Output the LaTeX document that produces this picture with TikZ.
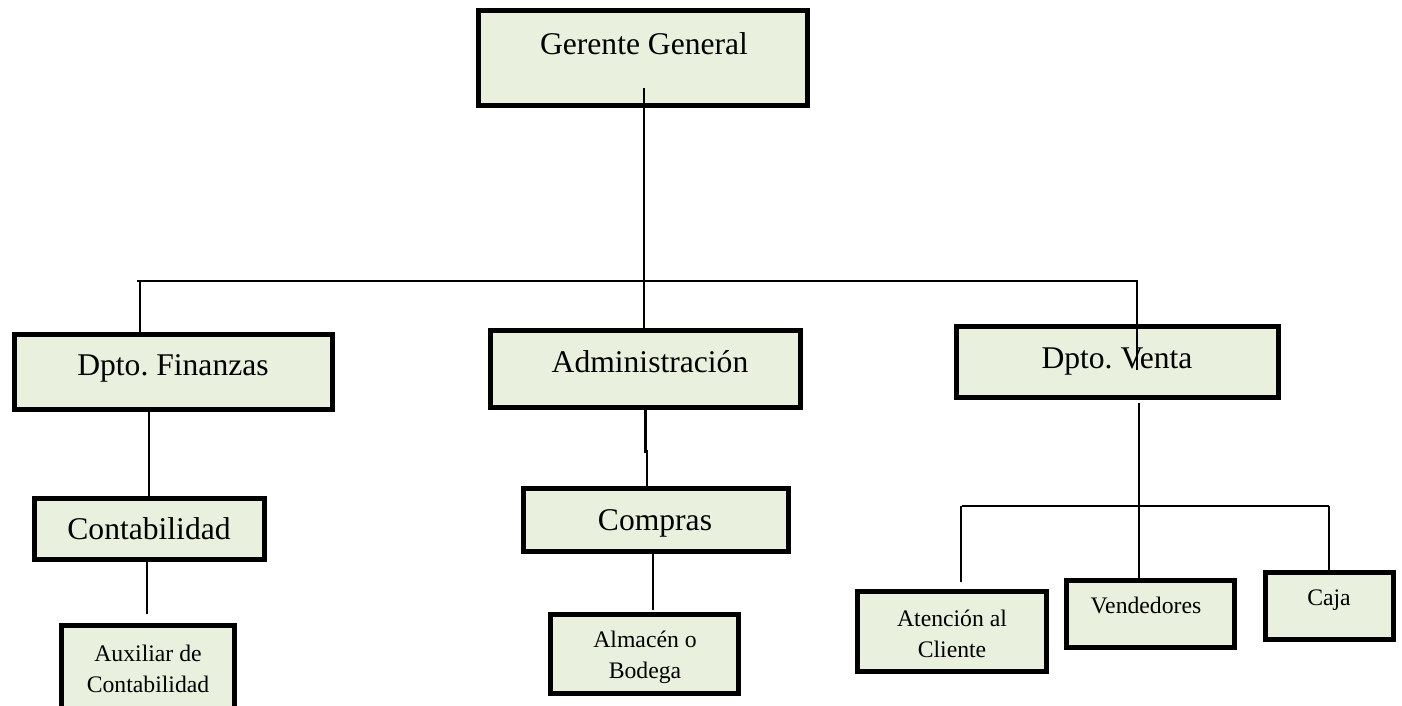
\documentclass[tikz,border=0pt]{standalone}
\usepackage{fontspec}
\setmainfont{Liberation Serif}
\frenchspacing
\definecolor{boxfill}{RGB}{233,240,221}
\tikzset{
  orgbox/.style={draw=black, line width=5pt, fill=boxfill, outer sep=0pt, inner sep=0pt, rectangle},
  bigtxt/.style={font=\fontsize{31.6}{38}\selectfont\frenchspacing, anchor=base, inner sep=0pt},
  smalltxt/.style={font=\fontsize{23.7}{31}\selectfont\frenchspacing, anchor=base, inner sep=0pt},
  conn/.style={draw=black, line width=2pt},
}
\begin{document}
\begin{tikzpicture}[x=1pt,y=-1pt]
\useasboundingbox[fill=white] (0,0) rectangle (1402,705);

% boxes
\node[orgbox, minimum width=329pt, minimum height=95pt] (gg) at (643,58) {};
\node[orgbox, minimum width=318pt, minimum height=75pt] (fin) at (173.5,372) {};
\node[orgbox, minimum width=310pt, minimum height=77pt] (adm) at (645.5,369) {};
\node[orgbox, minimum width=322pt, minimum height=71pt] (ven) at (1117.5,362) {};
\node[orgbox, minimum width=230pt, minimum height=61pt] (con) at (149.5,529) {};
\node[orgbox, minimum width=265pt, minimum height=63pt] (com) at (656,520) {};
\node[orgbox, minimum width=173pt, minimum height=86pt] (aux) at (148,668.5) {};
\node[orgbox, minimum width=188pt, minimum height=79pt] (alm) at (644.5,654) {};
\node[orgbox, minimum width=189pt, minimum height=80pt] (ate) at (952,631.5) {};
\node[orgbox, minimum width=168pt, minimum height=67pt] (vnd) at (1150.5,614) {};
\node[orgbox, minimum width=128pt, minimum height=67pt] (caj) at (1329.5,606) {};

% texts
\node[bigtxt] (ggt) at (644,54) {Gerente General};
\node[bigtxt] (fint) at (173,375) {Dpto. Finanzas};
\node[bigtxt] (admt) at (650,372) {Administración};
\node[bigtxt] (vent) at (1117,368) {Dpto. Venta};
\node[bigtxt] (cont) at (149,539) {Contabilidad};
\node[bigtxt] (comt) at (655,530) {Compras};
\node[smalltxt] (auxt1) at (148,661) {Auxiliar de};
\node[smalltxt] (auxt2) at (148,692) {Contabilidad};
\node[smalltxt] (almt1) at (645,647) {Almacén o};
\node[smalltxt] (almt2) at (645,678) {Bodega};
\node[smalltxt] (atet1) at (952,626) {Atención al};
\node[smalltxt] (atet2) at (952,657) {Cliente};
\node[smalltxt] (vndt) at (1146,613) {Vendedores};
\node[smalltxt] (cajt) at (1329,605) {Caja};

% connector points
\coordinate (ggdrop) at (644,88);
\coordinate (busL) at (137,281);
\coordinate (busR) at (1138,281);
\coordinate (finUp) at (140,281);
\coordinate (venUp) at (1137,281);
\coordinate (venIn) at (1137,370);
\coordinate (conEnd) at (147,614);
\coordinate (admMid) at (645,453);
\coordinate (comUp) at (647,450);
\coordinate (almEnd) at (653,610);
\coordinate (venDown) at (1139,403);
\coordinate (subL) at (962,506);
\coordinate (subR) at (1329,506);
\coordinate (ateEnd) at (961,582);

% connectors
\draw[conn] (ggdrop) -- (ggdrop |- adm.north);
\draw[conn] (busL) -- (busR);
\draw[conn] (finUp) -- (finUp |- fin.north);
\draw[conn] (venUp) -- (venIn);
\draw[conn] (fin.south -| 149,0) -- (con.north -| 149,0);
\draw[conn] (con.south -| conEnd) -- (conEnd);
\draw[line width=3pt] (adm.south -| admMid) -- (admMid);
\draw[conn] (comUp) -- (comUp |- com.north);
\draw[conn] (com.south -| almEnd) -- (almEnd);
\draw[conn] (venDown) -- (venDown |- vnd.north);
\draw[conn] (subL) -- (subR);
\draw[conn] (subL -| ateEnd) -- (ateEnd);
\draw[conn] (subR) -- (subR |- caj.north);
\end{tikzpicture}
\end{document}
